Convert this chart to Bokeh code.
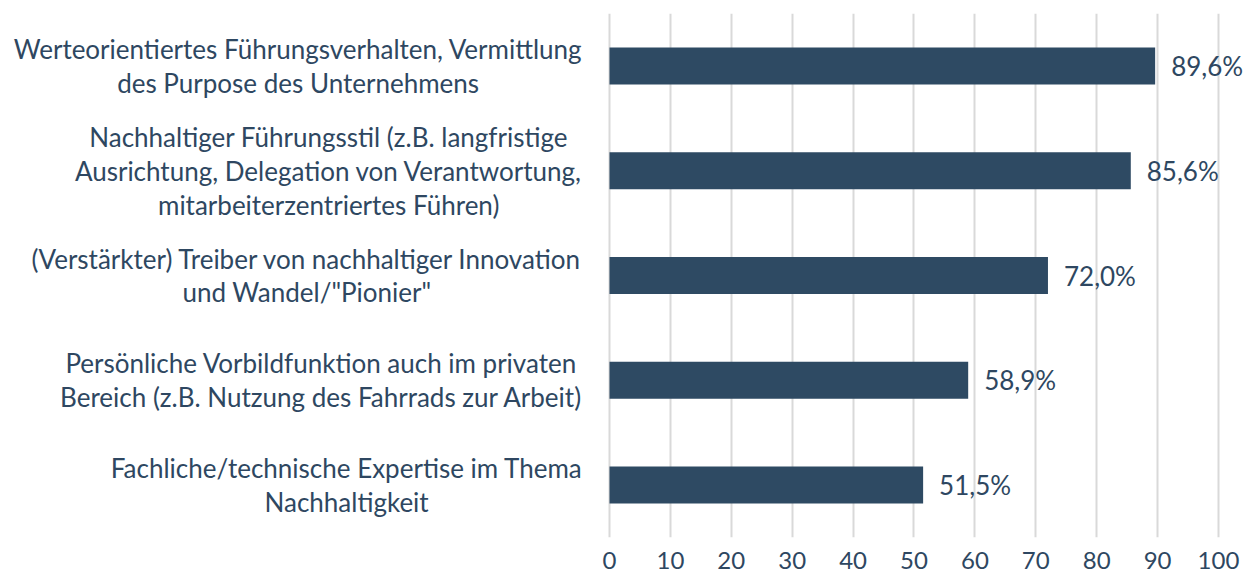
from bokeh.plotting import figure
from bokeh.models import FactorRange, Range1d, FixedTicker, ColumnDataSource
from bokeh.core.properties import value
from bokeh.embed import file_html
from bokeh.resources import INLINE

categories = [
    "Werteorientiertes Führungsverhalten, Vermittlung\ndes Purpose des Unternehmens",
    "Nachhaltiger Führungsstil (z.B. langfristige\nAusrichtung, Delegation von Verantwortung,\nmitarbeiterzentriertes Führen)",
    "(Verstärkter) Treiber von nachhaltiger Innovation\nund Wandel/\"Pionier\"",
    "Persönliche Vorbildfunktion auch im privaten\nBereich (z.B. Nutzung des Fahrrads zur Arbeit)",
    "Fachliche/technische Expertise im Thema\nNachhaltigkeit",
]
values = [89.6, 85.6, 72.0, 58.9, 51.5]
value_labels = ["89,6%", "85,6%", "72,0%", "58,9%", "51,5%"]
x_ticks = [0, 10, 20, 30, 40, 50, 60, 70, 80, 90, 100]

NAVY = "#2E4A63"
TEXT = "#2E4761"
FONT = "Lato"

src = ColumnDataSource(dict(cat=categories, val=values, lab=value_labels,
                            zero=[0] * len(values)))

p = figure(width=1246, height=578, output_backend="svg", toolbar_location=None,
           y_range=FactorRange(factors=categories[::-1]),
           x_range=Range1d(-100.0, 104.6),
           min_border_left=0, min_border_right=0, min_border_top=13, min_border_bottom=41)
p.outline_line_color = None
p.background_fill_color = "white"
p.border_fill_color = "white"

p.hbar(y="cat", left=0, right="val", height=0.353, source=src,
       fill_color=NAVY, line_color=None)

# value labels
p.text(x="val", y="cat", text="lab", source=src, x_offset=16,
       text_align="left", text_baseline="middle", text_color=TEXT,
       text_font=value(FONT), text_font_size="26px")

# category labels (right-aligned block, centred lines)
p.text(x="zero", y="cat", text="cat", source=src, x_offset=-27,
       anchor="center_right", text_align="center", text_baseline="middle",
       text_color=TEXT, text_font=value(FONT), text_font_size="26px",
       text_line_height=1.06)

p.yaxis.visible = False
p.ygrid.grid_line_color = None

p.xaxis.ticker = FixedTicker(ticks=x_ticks)
p.xaxis.bounds = (0, 100)
p.xaxis.axis_line_color = None
p.xaxis.major_tick_line_color = None
p.xaxis.minor_tick_line_color = None
p.xaxis.major_label_standoff = 8
p.xaxis.major_label_text_font = FONT
p.xaxis.major_label_text_font_size = "24px"
p.xaxis.major_label_text_color = TEXT

p.xgrid.ticker = FixedTicker(ticks=x_ticks)
p.xgrid.bounds = (0, 100)
p.xgrid.grid_line_color = "#D9D9D9"
p.xgrid.grid_line_width = 2

open("out.html", "w").write(file_html(p, INLINE))
